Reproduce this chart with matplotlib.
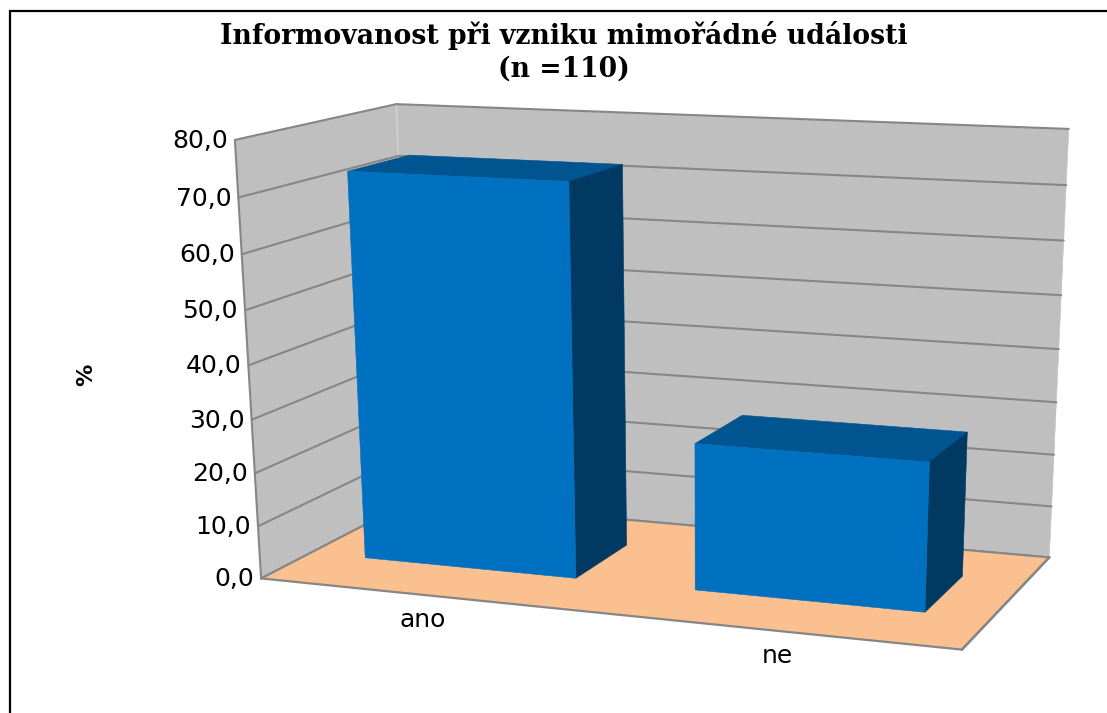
import numpy as np
import matplotlib
matplotlib.use("Agg")
import matplotlib.pyplot as plt
from matplotlib.patches import Polygon

categories = ["ano", "ne"]
values = [72.7, 27.3]
y_ticks = [0, 10, 20, 30, 40, 50, 60, 70, 80]
y_tick_labels = ["0,0", "10,0", "20,0", "30,0", "40,0", "50,0", "60,0", "70,0", "80,0"]
title = "Informovanost při vzniku mimořádné události\n(n =110)"
y_label = "%"

VMAX = 80.0
BAR_LEFT, BAR_RIGHT = 0.164, 0.160
Z0, Z1 = 0.31, 0.71

# camera calibration of the 3-D box: (x, value/VMAX, depth) -> pixel
box = np.array([[0,0,0],[1,0,0],[1,0,1],[0,0,1],[0,1,0],[0,1,1],[1,1,1]], float)
pix = np.array([[260,578],[962,650],[1049,557],[413,501],[236,140],[395,104],[1069,129]], float)
rows, rhs = [], []
for (x, y, z), (u, v) in zip(box, pix):
    rows.append([x, y, z, 1, 0, 0, 0, 0, -u*x, -u*y, -u*z]); rhs.append(u)
    rows.append([0, 0, 0, 0, x, y, z, 1, -v*x, -v*y, -v*z]); rhs.append(v)
P = np.append(np.linalg.lstsq(np.array(rows), np.array(rhs), rcond=None)[0], 1.0).reshape(3, 4)


def proj(x, val, z):
    h = P @ np.array([x, val / VMAX, z, 1.0])
    return h[0] / h[2], h[1] / h[2]


fig = plt.figure(figsize=(11.07, 7.13), dpi=100)
ax = fig.add_axes([0, 0, 1, 1])
ax.set_xlim(0, 1107)
ax.set_ylim(713, 0)
ax.axis("off")

WALL = "#BFBFBF"
FLOOR = "#FAC090"
GRID = "#868686"
FRONT = "#0070C0"
TOP = "#005591"
SIDE = "#003A63"


def face(pts, color, z):
    ax.add_patch(Polygon([proj(*p) for p in pts], closed=True, facecolor=color,
                         edgecolor=color, lw=0.4, zorder=z))


def seg(a, b, color=GRID, lw=1.5, z=2):
    pa, pb = proj(*a), proj(*b)
    ax.plot([pa[0], pb[0]], [pa[1], pb[1]], color=color, lw=lw, zorder=z,
            solid_capstyle="round")


# walls
face([(0,0,0),(0,VMAX,0),(0,VMAX,1),(0,0,1)], WALL, 1)
face([(0,0,1),(0,VMAX,1),(1,VMAX,1),(1,0,1)], WALL, 1)
seg((0,0,1), (0,VMAX,1), color="#D4D4D4", lw=1.0)

# gridlines
for t in y_ticks:
    seg((0,t,0), (0,t,1))
    seg((0,t,1), (1,t,1))
seg((0,0,0), (0,VMAX,0))

# floor
face([(0,0,0),(1,0,0),(1,0,1),(0,0,1)], FLOOR, 3)
seg((0,0,0), (1,0,0), z=4, lw=1.6)
seg((1,0,0), (1,0,1), z=4, lw=1.9)
seg((0,0,0), (0,0,1), z=4)
seg((0,0,1), (1,0,1), z=4)

# bars
for i, v in enumerate(values):
    c = (i + 0.5) / len(values)
    x0, x1 = c - BAR_LEFT, c + BAR_RIGHT
    base = 5 + i
    face([(x0,v,Z0),(x1,v,Z0),(x1,v,Z1),(x0,v,Z1)], TOP, base)
    face([(x1,0,Z0),(x1,v,Z0),(x1,v,Z1),(x1,0,Z1)], SIDE, base)
    face([(x0,0,Z0),(x1,0,Z0),(x1,v,Z0),(x0,v,Z0)], FRONT, base + 0.5)

# tick labels
for t, lab in zip(y_ticks, y_tick_labels):
    px, py = proj(0, t, 0)
    ax.text(px - 7, py + 1, lab, ha="right", va="center", fontsize=18,
            family="DejaVu Sans", color="black", zorder=10)

for i, lab in enumerate(categories):
    c = (i + 0.5) / len(categories)
    px, py = proj(c, 0, 0)
    ax.text(px - 2 + 5 * i, py + 25, lab, ha="center", va="center", fontsize=18,
            family="DejaVu Sans", color="black", zorder=10)

ax.text(86, 375, y_label, rotation=90, ha="center", va="center", fontsize=16,
        fontweight="bold", family="DejaVu Sans", color="black")
ax.text(564, 52, title, ha="center", va="center", fontsize=19.2, fontweight="bold",
        family="DejaVu Serif", color="black", linespacing=1.25)

# chart-area frame
ax.plot([9.5, 9.5, 1107], [713, 10.5, 10.5], color="black", lw=1.6, zorder=20,
        solid_joinstyle="miter")

fig.savefig("out.png", dpi=100)
